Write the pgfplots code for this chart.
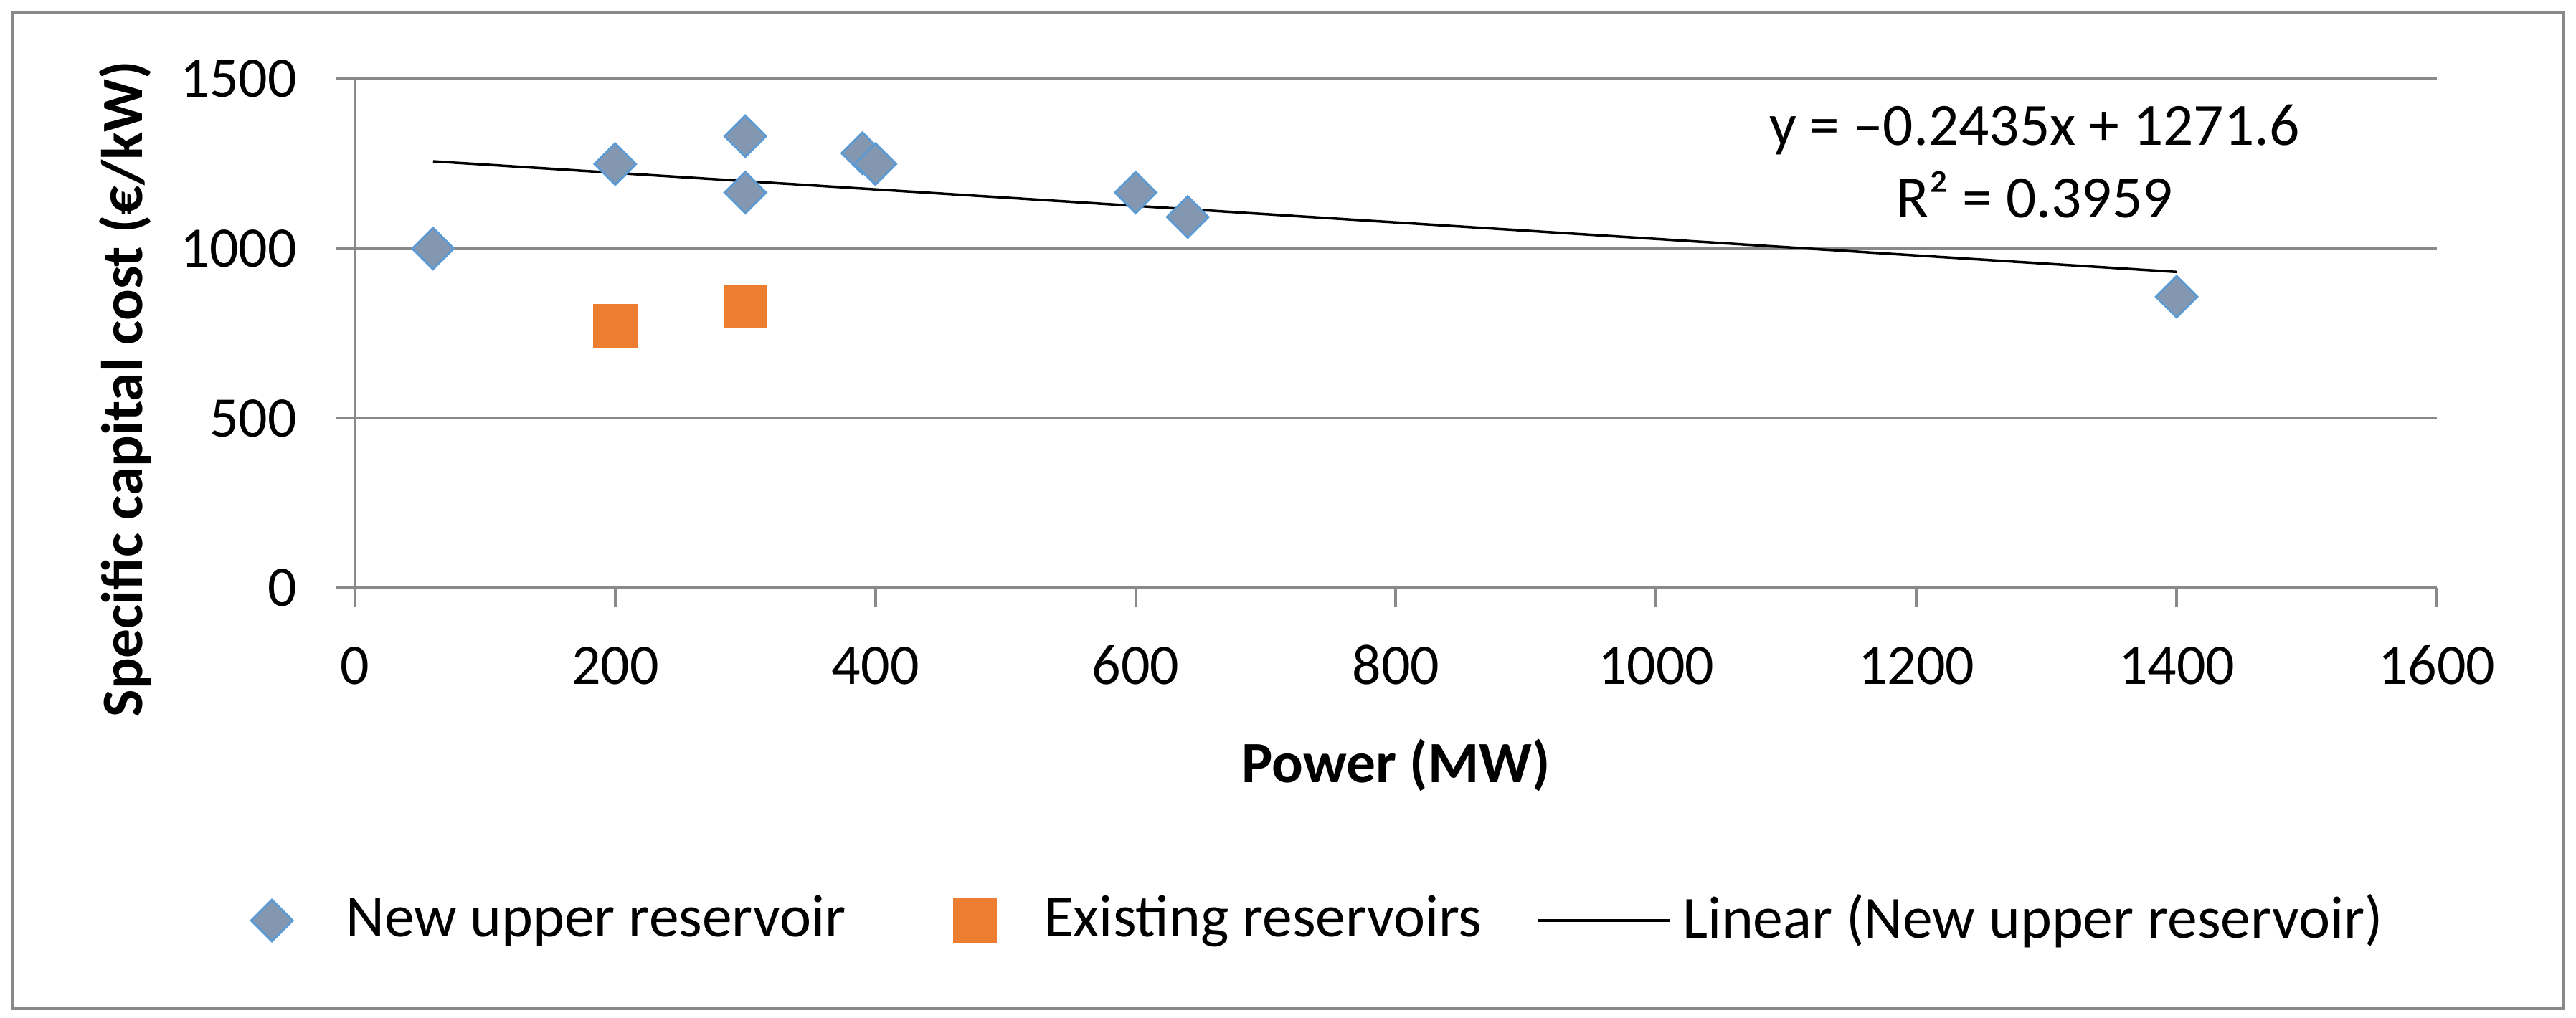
\documentclass[border=0pt]{standalone}
\usepackage{pgfplots}
\pgfplotsset{compat=1.18}
\usepackage{fontspec}
\setmainfont{Carlito}

\definecolor{newfill}{HTML}{8497B0}
\definecolor{newedge}{HTML}{5B9BD5}
\definecolor{oldres}{HTML}{ED7D31}
\definecolor{gridgray}{HTML}{898989}

% legend images with fixed room (room is only claimed, never drawn)
\pgfplotsset{
    diamleg/.style={legend image code/.code={
        \pgfpathrectangle{\pgfpoint{-6pt}{-6pt}}{\pgfpoint{26.6pt}{12pt}}\pgfusepath{discard}
        \draw[##1] plot coordinates {(0pt,0pt)};}},
    sqleg/.style={legend image code/.code={
        \pgfpathrectangle{\pgfpoint{-6.1pt}{-6.1pt}}{\pgfpoint{25.5pt}{12.2pt}}\pgfusepath{discard}
        \draw[##1] plot coordinates {(0pt,0pt)};}},
    lineleg/.style={legend image code/.code={
        \pgfpathrectangle{\pgfpoint{0pt}{-6pt}}{\pgfpoint{40.4pt}{12pt}}\pgfusepath{discard}
        \draw[##1] (0pt,0pt) -- (36.6pt,0pt);}},
}

\begin{document}
\fontsize{16.7}{20}\selectfont
\begin{tikzpicture}
\begin{axis}[
    name=ax,
    scale only axis,
    width=580.6pt, height=142pt,
    xmin=0, xmax=1600,
    ymin=0, ymax=1500,
    xtick={0,200,...,1600},
    ytick={0,500,1000,1500},
    axis lines*=left,
    axis line style={gridgray, line width=0.8pt},
    ymajorgrids=true,
    grid style={gridgray, line width=0.8pt},
    tick align=outside,
    major tick length=5.4pt,
    tick style={gridgray, line width=0.8pt},
    /pgf/number format/assume math mode=true,
    /pgf/number format/1000 sep={},
    ticklabel style={inner sep=0pt, font=\fontsize{16}{19}\selectfont},
    xticklabel style={anchor=base, yshift=-21.4pt},
    yticklabel style={anchor=east, xshift=-10.6pt},
    xlabel={Power (MW)},
    ylabel={Specific capital cost (€/kW)},
    xlabel style={at={(axis description cs:0.5,-0.3817)}, anchor=base,
        font=\fontsize{16.3}{19.5}\selectfont\bfseries, inner sep=0pt},
    ylabel style={at={(axis description cs:-0.1102,0.39)}, anchor=center,
        font=\fontsize{16.3}{19.5}\selectfont\bfseries, inner sep=0pt},
    legend columns=3,
    legend style={at={(axis description cs:-0.0506,-0.6535)}, anchor=west,
        draw=none, fill=none, inner sep=0pt, column sep=0pt,
        nodes={inner sep=0pt}},
    clip=false,
]

% new upper reservoir
\addplot[only marks, mark=square*, mark size=4.1pt,
    mark options={rotate=45, fill=newfill, draw=newedge, line width=0.55pt},
    diamleg]
    coordinates {
    (60,1000) (200,1249) (300,1331) (300,1165) (390,1281)
    (400,1249) (600,1165) (640,1093) (1400,858) };
\addlegendentry{\makebox[169.3pt][l]{New upper reservoir}}

% existing reservoirs
\addplot[only marks, mark=square*, mark size=6.05pt,
    mark options={fill=oldres, draw=oldres, line width=0.1pt},
    sqleg]
    coordinates { (200,773) (300,830) };
\addlegendentry{\makebox[137.4pt][l]{Existing reservoirs}}

% trend line
\addplot[black, line width=0.7pt, mark=none, lineleg]
    coordinates { (60,1257) (1400,931) };
\addlegendentry{Linear (New upper reservoir)}

\node[anchor=base, inner sep=0pt] at (axis cs:1290.8,1305.6) {y = –0.2435x + 1271.6};
\node[anchor=base, inner sep=0pt] at (axis cs:1290.8,1092) {R² = 0.3959};

\end{axis}
\draw[gridgray, line width=0.8pt]
    ([shift={(-95.6pt,-117.4pt)}]ax.south west) rectangle ([shift={(615.8pt,160.4pt)}]ax.south west);
\pgfresetboundingbox
\path[use as bounding box]
    ([shift={(-99pt,-120pt)}]ax.south west) rectangle ([shift={(619.4pt,164pt)}]ax.south west);
\end{tikzpicture}
\end{document}
